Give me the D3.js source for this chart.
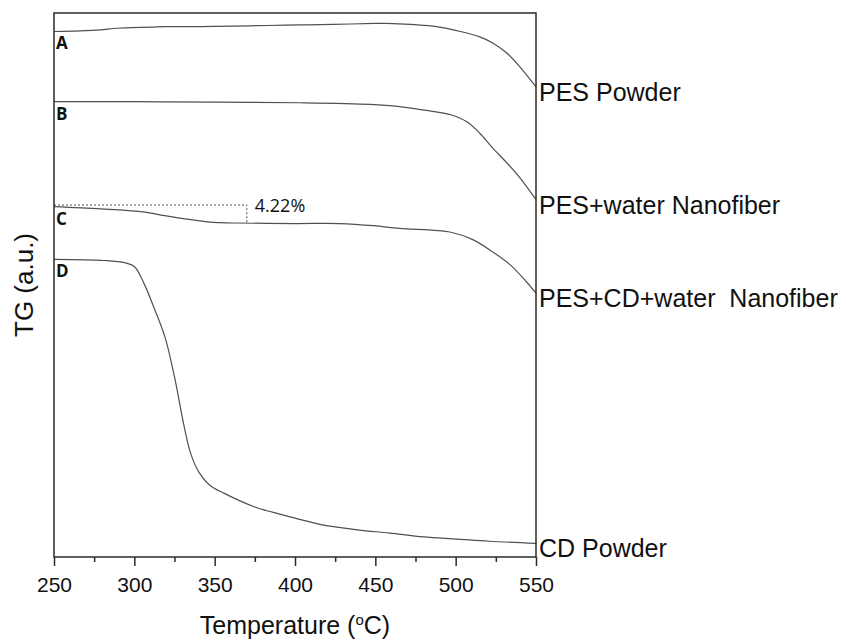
<!DOCTYPE html>
<html>
<head>
<meta charset="utf-8">
<script src="https://cdn.jsdelivr.net/npm/d3@7"></script>
<style>
  body { margin: 0; background: #fff; }
  svg { display: block; }
</style>
</head>
<body>
<svg id="chart" width="846" height="641"></svg>
<script>
// TGA curves (temperature in °C, TG in arbitrary units, stacked)
const tempA = [250, 266, 279, 289, 310, 320, 341, 361, 383, 403, 424, 450, 457, 472, 490, 503, 515, 523, 532, 540, 550];
const tgA   = [96.6, 96.7, 96.9, 97.2, 97.4, 97.5, 97.5, 97.6, 97.7, 97.8, 97.9, 98.1, 98.1, 97.9, 97.4, 96.6, 95.6, 94.5, 92.6, 90.1, 86.4];

const tempB = [250, 300, 350, 403, 447, 465, 484, 497, 507, 515, 523, 532, 540, 550];
const tgB   = [83.7, 83.7, 83.6, 83.5, 83.2, 82.8, 82.0, 81.3, 80.0, 77.9, 75.2, 72.4, 69.7, 65.7];

const tempC = [250, 279, 304, 316, 328, 349, 361, 400, 428, 449, 465, 497, 511, 523, 534, 544, 550];
const tgC   = [64.4, 64.0, 63.5, 62.9, 62.3, 61.5, 61.4, 61.3, 61.3, 60.9, 60.4, 59.7, 58.3, 56.1, 53.7, 50.6, 48.5];

const tempD = [250, 281, 294, 300, 306, 312, 319, 325, 331, 335, 340, 347, 356, 375, 393, 406, 417, 439, 459, 480, 501, 521, 550];
const tgD   = [54.7, 54.5, 54.1, 53.4, 50.3, 46.0, 40.5, 33.1, 24.0, 19.1, 15.7, 13.2, 11.7, 9.2, 7.7, 6.7, 5.9, 5.0, 4.4, 3.7, 3.3, 2.9, 2.5];

const seriesNames   = ["PES Powder", "PES+water Nanofiber", "PES+CD+water  Nanofiber", "CD Powder"];
const seriesLetters = ["A", "B", "C", "D"];

const xTicks      = [250, 300, 350, 400, 450, 500, 550];
const xMinorTicks = [275, 325, 375, 425, 475, 525];

// weight-loss step marked on curve C
const lossTemps  = [250, 370];
const lossLevels = [64.7, 61.3];
const lossLabel  = "4.22%";

const series = [
  { t: tempA, v: tgA },
  { t: tempB, v: tgB },
  { t: tempC, v: tgC },
  { t: tempD, v: tgD },
].map((s, i) => ({
  name: seriesNames[i],
  letter: seriesLetters[i],
  points: s.t.map((t, j) => ({ t, v: s.v[j] })),
}));

const W = 846, H = 641;
const margin = { top: 13, right: 310, bottom: 84, left: 54 };
const iW = W - margin.left - margin.right;
const iH = H - margin.top - margin.bottom;

const LINE = '#505050', FRAME = '#2a2a2a', TEXT = '#111';
const SANS = 'Arial, "Liberation Sans", sans-serif';
const CAL = '"Open Sans", "Noto Sans", sans-serif';

const svg = d3.select('#chart');
const g = svg.append('g').attr('transform', `translate(${margin.left},${margin.top})`);

const x = d3.scaleLinear().domain([250, 550]).range([0, iW]);
const y = d3.scaleLinear().domain([0, 100]).range([iH, 0]);

const line = d3.line()
  .x(d => x(d.t))
  .y(d => y(d.v))
  .curve(d3.curveCatmullRom.alpha(0.5));

// curves
g.selectAll('path.curve')
  .data(series)
  .join('path')
  .attr('class', 'curve')
  .attr('d', d => line(d.points))
  .style('fill', 'none')
  .style('stroke', LINE)
  .style('stroke-width', '1.2');

// dashed box for the first weight-loss step
g.append('path')
  .attr('d', `M${x(lossTemps[0])},${y(lossLevels[0])}H${x(lossTemps[1])}V${y(lossLevels[1])}`)
  .style('fill', 'none')
  .style('stroke', LINE)
  .style('stroke-width', '1')
  .style('stroke-dasharray', '2,2');

g.append('text')
  .attr('x', x(lossTemps[1]) + 8)
  .attr('y', y(lossLevels[0]) + 7)
  .style('font-family', CAL).style('font-size', '18px')
  .style('fill', TEXT)
  .text(lossLabel);

// curve letters at the left end
g.selectAll('text.letter')
  .data(series)
  .join('text')
  .attr('class', 'letter')
  .attr('x', 2)
  .attr('y', d => y(d.points[0].v) + 18)
  .style('font-family', CAL).style('font-size', '17px')
  .style('font-weight', '700').style('fill', TEXT)
  .text(d => d.letter);

// sample names at the right end
g.selectAll('text.name')
  .data(series)
  .join('text')
  .attr('class', 'name')
  .attr('x', iW + 3)
  .attr('y', d => y(d.points[d.points.length - 1].v) + 14)
  .style('font-family', SANS).style('font-size', '25px')
  .style('fill', TEXT)
  .style('white-space', 'pre')
  .text(d => d.name);

// frame
g.append('rect')
  .attr('x', 0).attr('y', 0)
  .attr('width', iW).attr('height', iH)
  .style('fill', 'none')
  .style('stroke', FRAME)
  .style('stroke-width', '1.5');

// x axis: major + minor ticks
const xAxis = g.append('g')
  .attr('transform', `translate(0,${iH})`)
  .call(d3.axisBottom(x).tickValues(xTicks).tickSize(9).tickPadding(11).tickFormat(d3.format('d')));
xAxis.select('.domain').remove();
xAxis.selectAll('line').style('stroke', FRAME).style('stroke-width', '1.5');
xAxis.selectAll('text')
  .style('font-family', SANS).style('font-size', '21px').style('fill', TEXT);

const xMinor = g.append('g')
  .attr('transform', `translate(0,${iH})`)
  .call(d3.axisBottom(x).tickValues(xMinorTicks).tickSize(5).tickFormat(''));
xMinor.select('.domain').remove();
xMinor.selectAll('line').style('stroke', FRAME).style('stroke-width', '1.5');

// axis titles
const xTitle = svg.append('text')
  .attr('x', margin.left + iW / 2)
  .attr('y', 634)
  .attr('text-anchor', 'middle')
  .style('font-family', SANS).style('font-size', '25px')
  .style('fill', TEXT);
xTitle.append('tspan').text('Temperature (');
xTitle.append('tspan').attr('dy', -9).style('font-size', '15px').text('o');
xTitle.append('tspan').attr('dy', 9).text('C)');

svg.append('text')
  .attr('transform', `translate(33,${285}) rotate(-90)`)
  .attr('text-anchor', 'middle')
  .style('font-family', SANS).style('font-size', '26px')
  .style('fill', TEXT)
  .text('TG (a.u.)');
</script>
</body>
</html>
